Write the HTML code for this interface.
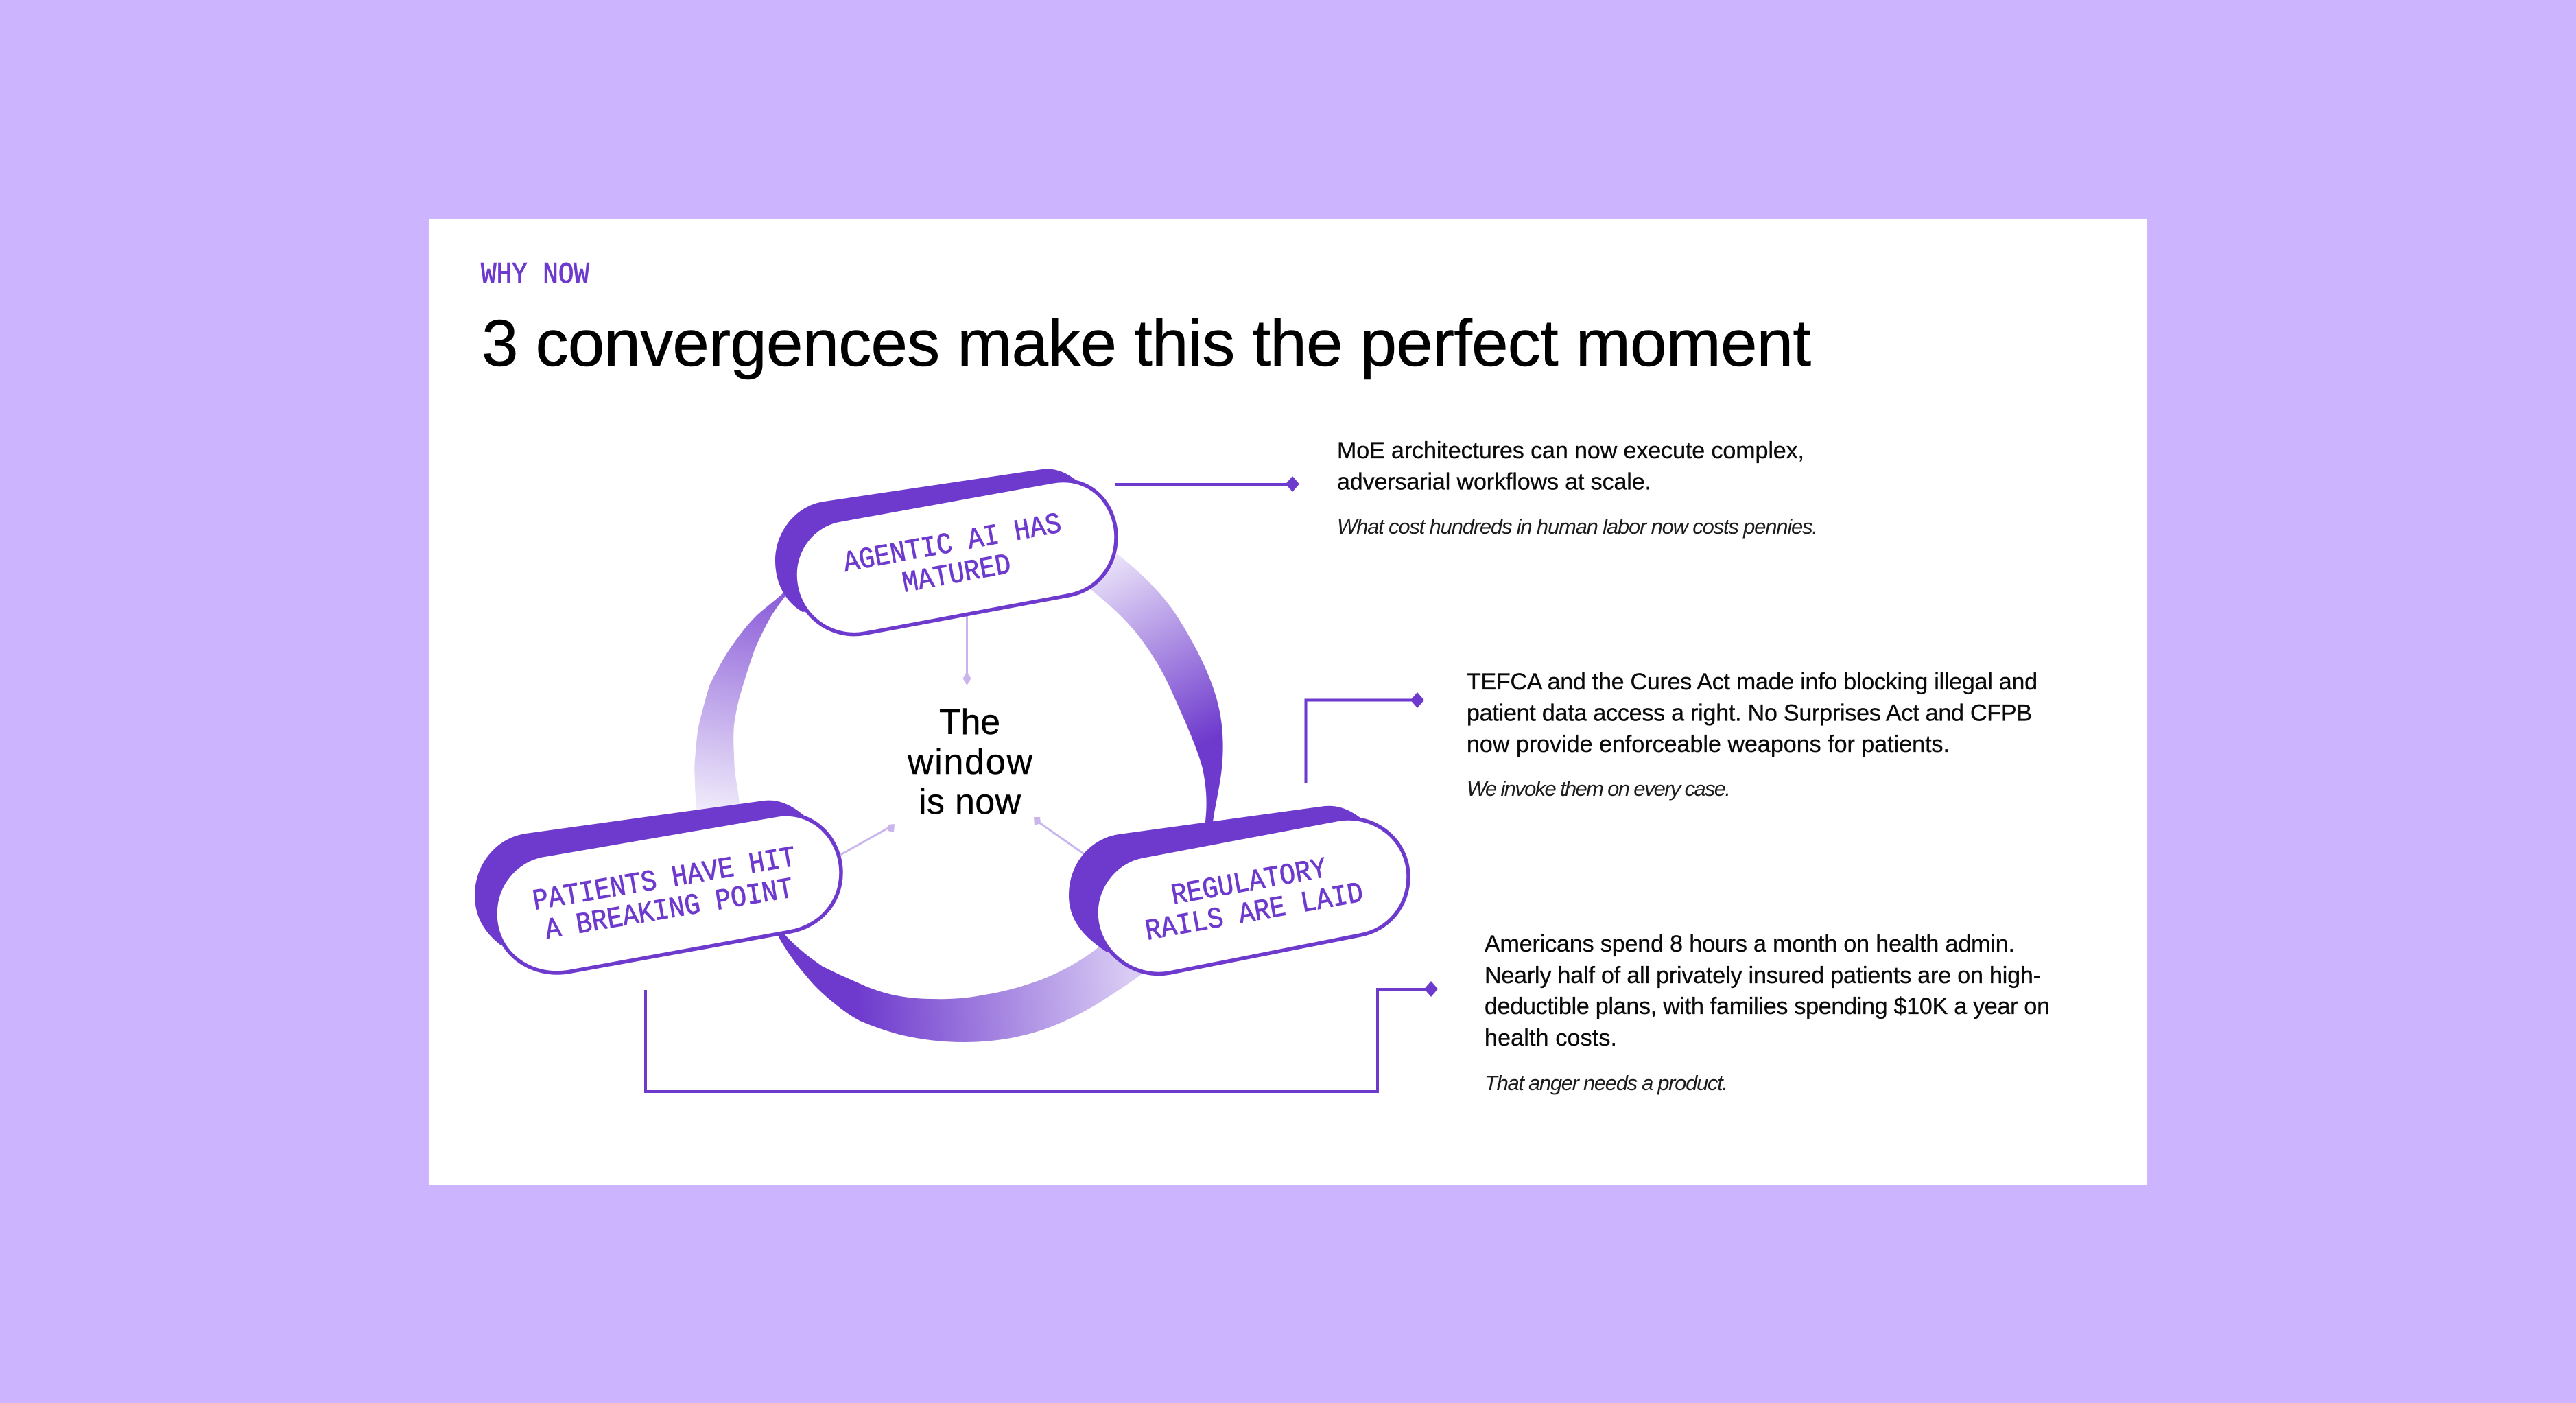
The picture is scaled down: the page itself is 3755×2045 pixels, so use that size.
<!DOCTYPE html>
<html><head><meta charset="utf-8"><style>
html,body{margin:0;padding:0;background:#cdb4ff;width:3755px;height:2045px;overflow:hidden}
svg{display:block}
.m{font-family:"Liberation Mono",monospace;font-size:43px;fill:#6e3acd;stroke:#6e3acd;stroke-width:.8}
.b{font-family:"Liberation Sans",sans-serif;font-size:34px;fill:#0a0a0a;stroke:#0a0a0a;stroke-width:.35}
.i{font-family:"Liberation Sans",sans-serif;font-size:31px;font-style:italic;fill:#1c1c1c}
.c{font-family:"Liberation Sans",sans-serif;font-size:52px;fill:#000;stroke:#000;stroke-width:.4}
</style></head><body>
<svg width="3755" height="2045" viewBox="0 0 3755 2045" xmlns="http://www.w3.org/2000/svg">
<defs>
<linearGradient id="ga" gradientUnits="userSpaceOnUse" x1="1625" y1="810" x2="1770" y2="1075"><stop offset="0" stop-color="#eae2f9"/><stop offset="1" stop-color="#6e3acd"/></linearGradient>
<linearGradient id="gb" gradientUnits="userSpaceOnUse" x1="1110" y1="860" x2="1050" y2="1185"><stop offset="0" stop-color="#8a5cd8"/><stop offset="1" stop-color="#f0ebfb"/></linearGradient>
<linearGradient id="gc" gradientUnits="userSpaceOnUse" x1="1250" y1="1470" x2="1650" y2="1440"><stop offset="0" stop-color="#6e3acd"/><stop offset="1" stop-color="#d9ccf4"/></linearGradient>
</defs>
<rect x="625" y="319" width="2504" height="1408" fill="#fff"/>

<text x="701" y="412" class="m" style="font-size:44px;stroke-width:1" textLength="158" lengthAdjust="spacingAndGlyphs">WHY NOW</text>
<text x="702" y="533" font-family="'Liberation Sans',sans-serif" font-size="96" fill="#000" stroke="#000" stroke-width=".6" textLength="1938" lengthAdjust="spacing">3 convergences make this the perfect moment</text>

<!-- swooshes -->
<path d="M1628,807 C1660,832 1695,865 1717,900 C1745,945 1768,990 1777,1033 C1785,1070 1784,1110 1777,1147 C1774,1165 1770,1182 1767,1205 L1756,1205 C1761,1170 1758,1145 1753,1120 C1745,1090 1725,1045 1703,997 C1688,965 1662,925 1633,897 C1620,884 1605,872 1590,859 Z" fill="url(#ga)"/>
<path d="M1143,863 C1128,877 1115,886 1103,897 C1090,910 1080,923 1070,937 C1055,957 1045,978 1035,997 C1030,1012 1026,1028 1022,1043 C1017,1060 1015,1080 1014,1097 C1012,1112 1012,1126 1013,1140 C1013,1155 1015,1168 1016,1188 L1079,1180 C1077,1160 1075,1150 1073,1137 C1071,1125 1070,1112 1070,1100 C1069,1085 1069,1070 1070,1057 C1072,1043 1074,1032 1077,1020 C1084,995 1092,970 1100,947 C1107,930 1115,915 1123,900 C1130,888 1138,878 1147,866 Z" fill="url(#gb)"/>
<path d="M1132,1360 C1145,1385 1160,1405 1179,1427 C1190,1440 1203,1452 1217,1463 C1228,1472 1240,1481 1253.5,1488 C1275,1497 1298,1505 1320.5,1510 C1348,1516 1377,1519 1405,1519 C1428,1519 1452,1517 1473.6,1513 C1494,1509 1513,1504 1531,1497 C1555,1488 1578,1476 1600,1463 C1622,1449 1643,1436 1668,1417 L1602,1380 C1590,1390 1576,1399 1562,1407 C1546,1416 1529,1424 1512,1430 C1487,1439 1461,1446 1435,1450 C1410,1455 1384,1457 1359,1456 C1339,1456 1320,1454 1301,1450 C1288,1447 1276,1443 1263,1438 C1241,1428 1219,1419 1198,1408 C1178,1394 1160,1380 1142,1360 Z" fill="url(#gc)"/>

<!-- thin light connectors -->
<g stroke="#c9b5ec" stroke-width="3" fill="none">
<path d="M1409.5,890 V985"/><path d="M1225,1246 L1298,1205"/><path d="M1582,1246 L1512,1197"/>
</g>
<g fill="#c9b5ec">
<path d="M1409.5,979 l6,10 l-6,10 l-6,-10 z"/>
<path d="M1304,1201 l-1,12 l-9,-2 l1,-9 z"/>
<path d="M1507,1191 l9,0 l1,9 l-9,3 z"/>
</g>

<!-- pill 1 -->
<path d="M1201,731 L1519,684 C1543,681 1560,693 1574,704 L1400,860 L1170,892 C1145,878 1130,850 1130,817 C1130,775 1160,737 1201,731 Z" fill="#6e3acd"/>
<path d="M1224,758 L1534,702 C1590,692 1627,735 1627,783 C1627,825 1600,860 1557,868 L1262,923 C1210,933 1159,895 1159,837 C1159,800 1185,765 1224,758 Z" fill="#fff" stroke="#6e3acd" stroke-width="5.5"/>
<g class="m">
<text transform="translate(1232,833) rotate(-10.4)" textLength="322" lengthAdjust="spacingAndGlyphs">AGENTIC AI HAS</text>
<text transform="translate(1318,863) rotate(-10.4)" textLength="160" lengthAdjust="spacingAndGlyphs">MATURED</text>
</g>

<!-- pill 2 -->
<path d="M766,1215 L1114,1167 C1140,1164 1160,1178 1177,1193 L1000,1340 L729,1377 C705,1358 692,1335 692,1305 C692,1258 725,1221 766,1215 Z" fill="#6e3acd"/>
<path d="M789,1247 L1133,1188 C1185,1180 1226,1222 1226,1272 C1226,1316 1195,1350 1152,1358 L832,1416 C775,1427 722,1390 722,1332 C722,1290 750,1256 789,1247 Z" fill="#fff" stroke="#6e3acd" stroke-width="5.5"/>
<g class="m">
<text transform="translate(779,1326) rotate(-9.6)" textLength="388" lengthAdjust="spacingAndGlyphs">PATIENTS HAVE HIT</text>
<text transform="translate(797,1368) rotate(-9.6)" textLength="366" lengthAdjust="spacingAndGlyphs">A BREAKING POINT</text>
</g>

<!-- pill 3 -->
<path d="M1631,1216 L1931,1175 C1952,1173 1968,1181 1983,1192 L1800,1340 L1614,1388 C1578,1365 1558,1340 1558,1305 C1558,1258 1590,1222 1631,1216 Z" fill="#6e3acd"/>
<path d="M1665,1248 L1952,1194 C2005,1186 2053,1225 2053,1278 C2053,1320 2025,1355 1983,1363 L1705,1418 C1650,1428 1598,1385 1598,1330 C1598,1290 1628,1255 1665,1248 Z" fill="#fff" stroke="#6e3acd" stroke-width="5.5"/>
<g class="m">
<text transform="translate(1710,1318) rotate(-10.2)" textLength="229" lengthAdjust="spacingAndGlyphs">REGULATORY</text>
<text transform="translate(1672,1370) rotate(-10.2)" textLength="322" lengthAdjust="spacingAndGlyphs">RAILS ARE LAID</text>
</g>

<!-- center -->
<text x="1369" y="1070" class="c" textLength="89" lengthAdjust="spacing">The</text>
<text x="1323" y="1128" class="c" textLength="182" lengthAdjust="spacing">window</text>
<text x="1339" y="1186" class="c" textLength="149" lengthAdjust="spacing">is now</text>

<!-- connectors -->
<g stroke="#6e3acd" stroke-width="4" fill="none">
<path d="M1626,706 H1880"/>
<path d="M1903.5,1141 V1020.5 H2060"/>
<path d="M941,1443 V1591 H2008 V1442 H2080"/>
</g>
<g fill="#6e3acd">
<path d="M1884,694 l10,11.5 l-10,11.5 l-10,-11.5 z"/>
<path d="M2066,1009 l10,11.5 l-10,11.5 l-10,-11.5 z"/>
<path d="M2086,1430 l10,11.5 l-10,11.5 l-10,-11.5 z"/>
</g>

<!-- copy -->
<text x="1949" y="668" class="b" textLength="681" lengthAdjust="spacing">MoE architectures can now execute complex,</text>
<text x="1949" y="713.5" class="b" textLength="458" lengthAdjust="spacing">adversarial workflows at scale.</text>
<text x="1949" y="778" class="i" textLength="701" lengthAdjust="spacing">What cost hundreds in human labor now costs pennies.</text>

<text x="2138" y="1005" class="b" textLength="832" lengthAdjust="spacing">TEFCA and the Cures Act made info blocking illegal and</text>
<text x="2138" y="1050.5" class="b" textLength="824" lengthAdjust="spacing">patient data access a right. No Surprises Act and CFPB</text>
<text x="2138" y="1096" class="b" textLength="704" lengthAdjust="spacing">now provide enforceable weapons for patients.</text>
<text x="2138" y="1160" class="i" textLength="385" lengthAdjust="spacing">We invoke them on every case.</text>

<text x="2164" y="1387" class="b" textLength="773" lengthAdjust="spacing">Americans spend 8 hours a month on health admin.</text>
<text x="2164" y="1433" class="b" textLength="811" lengthAdjust="spacing">Nearly half of all privately insured patients are on high-</text>
<text x="2164" y="1478" class="b" textLength="824" lengthAdjust="spacing">deductible plans, with families spending $10K a year on</text>
<text x="2164" y="1524" class="b" textLength="193" lengthAdjust="spacing">health costs.</text>
<text x="2164" y="1589" class="i" textLength="355" lengthAdjust="spacing">That anger needs a product.</text>
</svg>
</body></html>
